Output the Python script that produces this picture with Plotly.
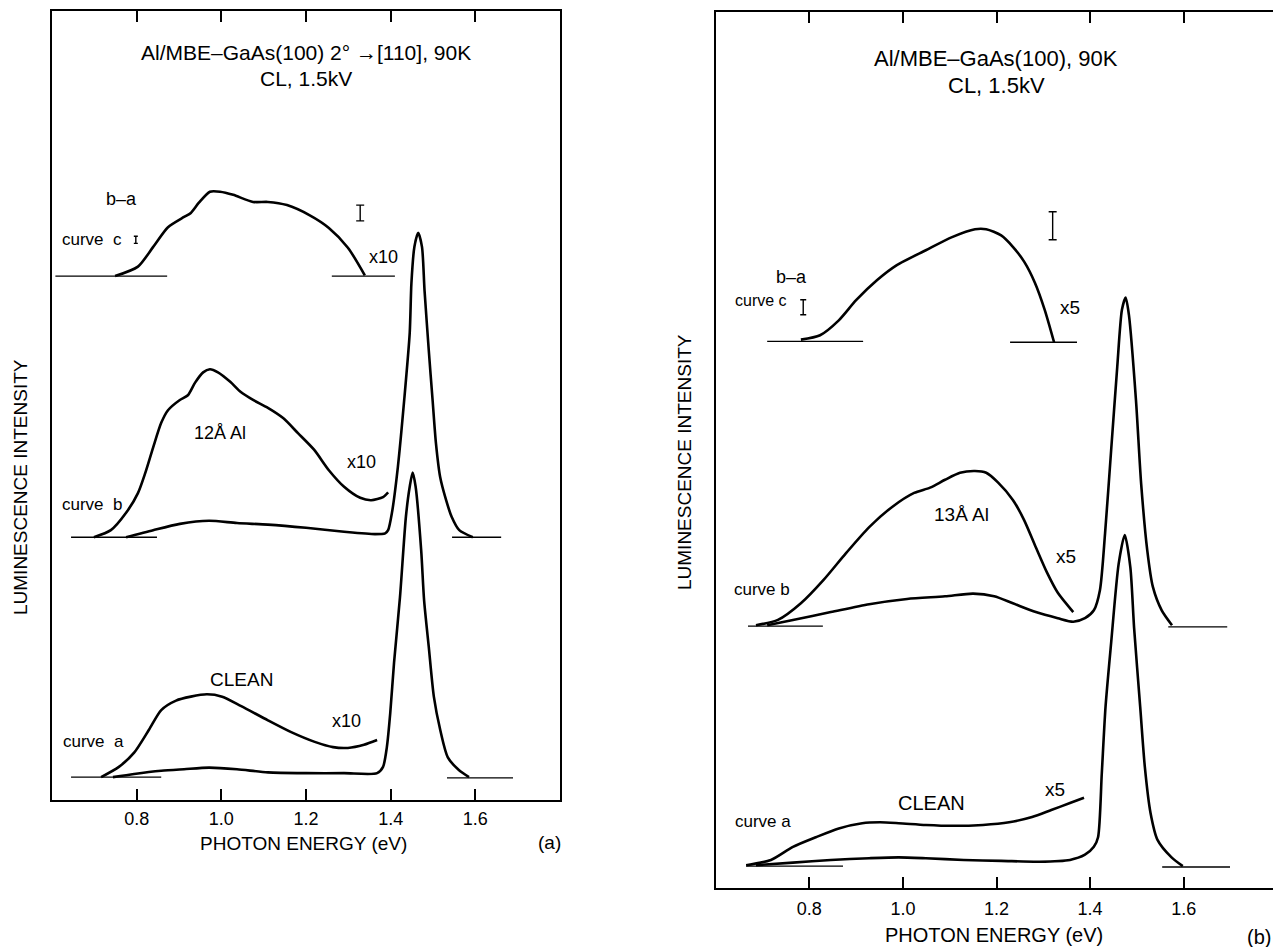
import plotly.graph_objects as go

# ---------------- Panel (a): Al/MBE-GaAs(100) 2deg -> [110] ----------------
a_c_x = [0.749, 0.803, 0.839, 0.874, 0.912, 0.928, 0.947, 0.973, 0.997, 1.028, 1.075, 1.110, 1.155, 1.209, 1.254, 1.299, 1.339]
a_c_y = [66.4, 67.6, 70.1, 72.6, 73.9, 74.4, 75.7, 77.1, 77.1, 76.7, 75.8, 75.8, 75.4, 74.1, 72.5, 70.0, 66.5]

a_b10_x = [0.699, 0.739, 0.775, 0.803, 0.820, 0.839, 0.858, 0.874, 0.902, 0.921, 0.938, 0.957, 0.973, 0.992, 1.021, 1.046,
           1.075, 1.110, 1.146, 1.181, 1.219, 1.254, 1.290, 1.328, 1.354, 1.382, 1.394]
a_b10_y = [33.3, 34.2, 36.4, 38.9, 41.4, 44.7, 47.8, 49.4, 50.7, 51.3, 52.9, 54.2, 54.6, 54.2, 53.0, 51.7,
           50.7, 49.7, 48.4, 46.5, 44.4, 41.8, 39.7, 38.3, 38.0, 38.4, 39.0]

a_b1_x = [0.775, 0.839, 0.902, 0.971, 1.037, 1.110, 1.200, 1.290, 1.363, 1.387, 1.394, 1.403, 1.417, 1.432,
          1.445, 1.449, 1.456, 1.465, 1.474, 1.480, 1.490, 1.499, 1.507, 1.517, 1.531, 1.544, 1.562, 1.594]
a_b1_y = [33.3, 34.2, 35.0, 35.4, 35.1, 34.9, 34.5, 34.0, 33.7, 33.8, 34.2, 36.4, 42.2, 50.7,
          59.2, 65.5, 70.1, 71.9, 70.1, 64.6, 57.0, 50.7, 45.2, 40.9, 38.0, 35.9, 34.2, 33.3]

a_a10_x = [0.716, 0.758, 0.794, 0.829, 0.858, 0.893, 0.928, 0.966, 1.002, 1.047, 1.110, 1.165, 1.219, 1.264, 1.299, 1.337, 1.368]
a_a10_y = [2.9, 4.2, 6.0, 8.9, 11.4, 12.6, 13.1, 13.4, 13.1, 11.9, 10.1, 8.6, 7.4, 6.7, 6.6, 7.0, 7.6]

a_a1_x = [0.744, 0.794, 0.858, 0.912, 0.971, 1.037, 1.110, 1.200, 1.290, 1.368, 1.382, 1.391, 1.399, 1.408, 1.422,
          1.436, 1.445, 1.452, 1.459, 1.472, 1.479, 1.490, 1.502, 1.517, 1.535, 1.561, 1.585]
a_a1_y = [2.9, 3.3, 3.7, 3.9, 4.1, 3.9, 3.5, 3.4, 3.4, 3.4, 4.2, 6.7, 11.0, 17.4, 25.7,
          35.9, 39.7, 41.5, 39.7, 31.7, 25.3, 19.4, 13.1, 8.9, 5.4, 3.8, 2.9]

# baselines: (x_start, x_end, level)
a_baselines = [(0.608, 0.872, 66.4), (1.261, 1.410, 66.4),
               (0.645, 0.848, 33.3), (1.545, 1.661, 33.3),
               (0.645, 0.858, 2.9), (1.533, 1.689, 2.8)]
# error bars: (x, y, half-height, serif width px)
a_errbars = [(1.328, 74.4, 1.0, 4), (0.798, 71.0, 0.45, 2)]

# ---------------- Panel (b): Al/MBE-GaAs(100) ----------------
b_c_x = [0.782, 0.823, 0.863, 0.900, 0.945, 0.987, 1.049, 1.105, 1.154, 1.178, 1.210, 1.235, 1.259, 1.282, 1.303, 1.323]
b_c_y = [62.6, 63.1, 64.8, 67.1, 69.4, 71.1, 72.8, 74.3, 75.2, 75.2, 74.5, 73.2, 71.5, 69.1, 66.0, 62.3]

b_b5_x = [0.686, 0.733, 0.782, 0.831, 0.878, 0.928, 0.977, 1.024, 1.058, 1.090, 1.122, 1.154, 1.178, 1.203,
          1.235, 1.259, 1.284, 1.308, 1.331, 1.364]
b_b5_y = [30.0, 30.6, 32.5, 35.2, 38.2, 41.2, 43.5, 45.1, 45.7, 46.6, 47.4, 47.6, 47.4, 46.3,
          44.3, 42.0, 38.9, 36.0, 33.7, 31.5]

b_b1_x = [0.710, 0.765, 0.846, 0.928, 1.009, 1.090, 1.150, 1.195, 1.235, 1.284, 1.331, 1.364, 1.389, 1.408,
          1.421, 1.432, 1.445, 1.458, 1.468, 1.476, 1.483, 1.498, 1.509, 1.522, 1.534, 1.553, 1.575]
b_b1_y = [30.0, 30.6, 31.5, 32.4, 33.0, 33.3, 33.6, 33.3, 32.5, 31.5, 30.8, 30.4, 30.8, 31.7,
          34.0, 40.5, 50.0, 59.5, 66.0, 67.4, 65.4, 55.7, 46.2, 38.6, 34.4, 31.7, 30.0]

b_a5_x = [0.665, 0.718, 0.765, 0.814, 0.863, 0.913, 0.951, 0.991, 1.049, 1.105, 1.171, 1.227, 1.276, 1.317, 1.357, 1.387]
b_a5_y = [2.6, 3.2, 4.7, 5.8, 6.8, 7.4, 7.5, 7.4, 7.2, 7.1, 7.2, 7.5, 8.1, 8.9, 9.7, 10.3]

b_a1_x = [0.686, 0.765, 0.846, 0.928, 0.991, 1.049, 1.130, 1.210, 1.291, 1.357, 1.389, 1.408, 1.417, 1.425,
          1.433, 1.445, 1.461, 1.474, 1.486, 1.494, 1.507, 1.517, 1.529, 1.544, 1.574, 1.598]
b_a1_y = [2.6, 2.9, 3.2, 3.4, 3.5, 3.4, 3.2, 3.1, 3.0, 3.2, 3.8, 4.7, 5.8, 13.1,
          20.7, 28.0, 37.0, 40.3, 36.6, 29.7, 20.7, 13.8, 8.6, 5.5, 3.5, 2.5]

b_baselines = [(0.710, 0.915, 62.4), (1.229, 1.372, 62.3),
               (0.669, 0.829, 29.9), (1.567, 1.693, 29.8),
               (0.665, 0.872, 2.5), (1.554, 1.699, 2.4)]
b_errbars = [(1.320, 75.6, 1.6, 4), (0.787, 66.3, 0.86, 3)]

tick_vals = [0.8, 1.0, 1.2, 1.4, 1.6]
tick_text = ["0.8", "1.0", "1.2", "1.4", "1.6"]

FONT = "Liberation Sans, Arial, Helvetica, sans-serif"
W, H = 1273, 947

fig = go.Figure()

def add_curve(x, y, xa, ya):
    fig.add_trace(go.Scatter(x=x, y=y, mode="lines", xaxis=xa, yaxis=ya,
                             line=dict(color="black", width=2.6, shape="spline", smoothing=0.7),
                             showlegend=False, hoverinfo="skip"))

def add_baselines(bl, xa, ya):
    for x0, x1, lv in bl:
        fig.add_trace(go.Scatter(x=[x0, x1], y=[lv, lv], mode="lines", xaxis=xa, yaxis=ya,
                                 line=dict(color="black", width=1.3),
                                 showlegend=False, hoverinfo="skip"))

def add_errbars(eb, xa, ya):
    for x, y, h, w in eb:
        fig.add_trace(go.Scatter(x=[x], y=[y], mode="markers", xaxis=xa, yaxis=ya,
                                 marker=dict(size=1, color="rgba(0,0,0,0)"),
                                 error_y=dict(type="data", array=[h], color="black", thickness=1.4, width=w),
                                 showlegend=False, hoverinfo="skip"))

for cx, cy in [(a_c_x, a_c_y), (a_b10_x, a_b10_y), (a_b1_x, a_b1_y), (a_a10_x, a_a10_y), (a_a1_x, a_a1_y)]:
    add_curve(cx, cy, "x", "y")
add_baselines(a_baselines, "x", "y")
add_errbars(a_errbars, "x", "y")

for cx, cy in [(b_c_x, b_c_y), (b_b5_x, b_b5_y), (b_b1_x, b_b1_y), (b_a5_x, b_a5_y), (b_a1_x, b_a1_y)]:
    add_curve(cx, cy, "x2", "y2")
add_baselines(b_baselines, "x2", "y2")
add_errbars(b_errbars, "x2", "y2")

axis_common = dict(showgrid=False, zeroline=False, linecolor="black", linewidth=2,
                   tickfont=dict(family=FONT, size=18, color="black"))

fig.update_layout(
    width=W, height=H, margin=dict(l=0, r=0, t=0, b=0),
    paper_bgcolor="white", plot_bgcolor="white",
    font=dict(family=FONT, color="black"),
    xaxis=dict(domain=[52 / W, 560 / W], range=[0.6, 1.8], anchor="y",
               showline=True, mirror="ticks", ticks="inside", ticklen=11, tickwidth=1.6, tickcolor="black",
               tickvals=tick_vals, ticktext=tick_text, ticklabelstandoff=1, **axis_common),
    yaxis=dict(domain=[1 - 800 / H, 1 - 11 / H], range=[0, 100], anchor="x",
               showline=True, mirror=True, ticks="", showticklabels=False, **axis_common),
    xaxis2=dict(domain=[715.7 / W, 1.0], range=[0.6, 1.7908], anchor="y2",
                showline=True, mirror="ticks", ticks="inside", ticklen=11, tickwidth=1.6, tickcolor="black",
                tickvals=tick_vals, ticktext=tick_text, ticklabelstandoff=3, **axis_common),
    yaxis2=dict(domain=[1 - 888 / H, 1 - 12 / H], range=[0, 100], anchor="x2",
                showline=True, mirror=False, ticks="", showticklabels=False, **axis_common),
)

def ann(text, x, y, xr, yr, size=17, xanchor="center", angle=0):
    fig.add_annotation(text=text, x=x, y=y, xref=xr, yref=yr, showarrow=False,
                       xanchor=xanchor, yanchor="middle", textangle=angle,
                       font=dict(family=FONT, size=size, color="black"))

# Panel (a) texts
ann("Al/MBE\u2013GaAs(100) 2\u00b0 \u2192[110], 90K", 1.200, 94.7, "x", "y", 21)
ann("CL, 1.5kV", 1.200, 91.5, "x", "y", 21)
ann("b\u2013a", 0.765, 76.2, "x", "y", 18)
ann("curve  c", 0.694, 71.0, "x", "y", 17)
ann("x10", 1.382, 68.8, "x", "y", 18)
ann("12\u00c5 Al", 0.997, 46.5, "x", "y", 18)
ann("x10", 1.332, 42.8, "x", "y", 18)
ann("curve  b", 0.694, 37.4, "x", "y", 17)
ann("CLEAN", 1.047, 15.3, "x", "y", 19)
ann("x10", 1.295, 10.0, "x", "y", 18)
ann("curve  a", 0.697, 7.4, "x", "y", 17)
ann("PHOTON ENERGY (eV)", 1.195, 1 - 843 / H, "x", "paper", 19)
ann("(a)", 1.776, 1 - 842 / H, "x", "paper", 19)
ann("LUMINESCENCE INTENSITY", 21 / W, 1 - 487 / H, "paper", "paper", 19, angle=-90)

# Panel (b) texts
ann("Al/MBE\u2013GaAs(100), 90K", 1.199, 94.7, "x2", "y2", 22)
ann("CL, 1.5kV", 1.199, 91.6, "x2", "y2", 22)
ann("b\u2013a", 0.762, 69.7, "x2", "y2", 18)
ann("curve c", 0.697, 67.1, "x2", "y2", 16)
ann("x5", 1.356, 66.3, "x2", "y2", 19)
ann("13\u00c5 Al", 1.126, 42.6, "x2", "y2", 19)
ann("x5", 1.349, 37.8, "x2", "y2", 19)
ann("curve b", 0.699, 34.1, "x2", "y2", 17)
ann("CLEAN", 1.061, 9.7, "x2", "y2", 20)
ann("x5", 1.326, 11.2, "x2", "y2", 19)
ann("curve a", 0.701, 7.6, "x2", "y2", 17)
ann("PHOTON ENERGY (eV)", 1.195, 1 - 935 / H, "x2", "paper", 20)
fig.add_annotation(text="(b)", x=1.0, y=1 - 937 / H, xref="paper", yref="paper", showarrow=False,
                   xanchor="right", yanchor="middle", font=dict(family=FONT, size=20, color="black"))
ann("LUMINESCENCE INTENSITY", 685 / W, 1 - 462 / H, "paper", "paper", 19, angle=-90)

fig.write_html("out.html", config={"displayModeBar": False},
               post_script="document.body.style.margin='0px';document.body.style.overflow='hidden';")
